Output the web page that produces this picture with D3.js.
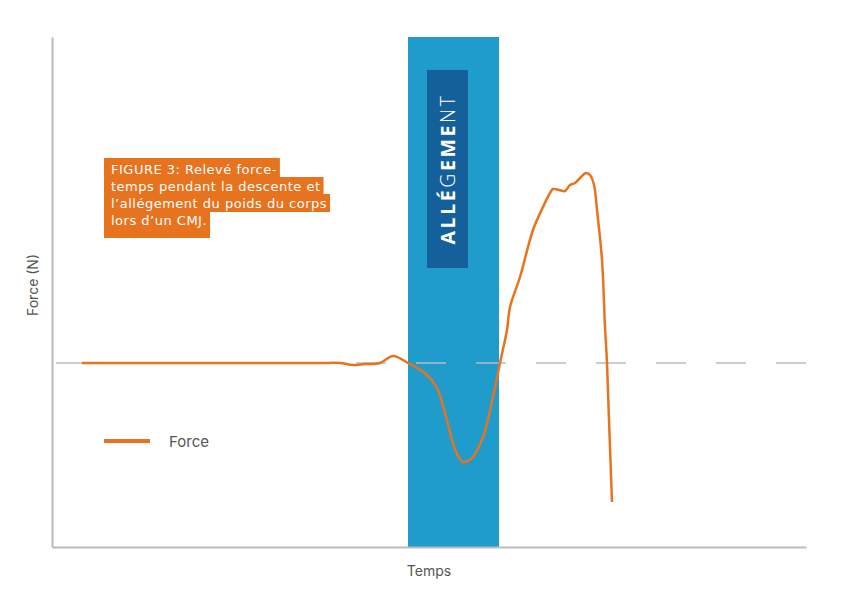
<!DOCTYPE html>
<html>
<head>
<meta charset="utf-8">
<script src="https://cdn.jsdelivr.net/npm/d3@7"></script>
<style>
    body { margin: 0; background: #fff; }
    svg { display: block; }
</style>
</head>
<body>
<script>
'use strict';

// temps (ms) et force (N)
const timeMs = [60, 136, 216, 296, 376, 456, 536, 576, 602, 626, 656, 682, 712, 750, 770, 786,
    802, 812, 822, 832, 842, 862, 882, 896, 910, 916, 936, 962, 982, 996, 1002, 1014, 1026,
    1036, 1046, 1056, 1068, 1076, 1084, 1090, 1100, 1106, 1110, 1114, 1120];
const forceN = [736, 736, 736, 736, 736, 736, 736, 736, 728, 732, 736, 764, 736, 688, 636, 536,
    416, 364, 340, 344, 360, 440, 600, 736, 868, 960, 1080, 1268, 1360, 1416, 1432, 1428, 1424,
    1448, 1456, 1476, 1496, 1488, 1448, 1348, 1148, 880, 736, 508, 180];

const bodyWeight = 736;
const unloadPhase = [712, 894];
const timeDomain = [0, 1508];
const forceDomain = [0, 2040];

const captionLines = [
    'FIGURE 3: Relevé force-',
    'temps pendant la descente et',
    'l\u2019allégement du poids du corps',
    'lors d\u2019un CMJ.'
];
const phaseLabel = [
    {text: 'ALLÉ', weight: 700},
    {text: 'G', weight: 300},
    {text: 'EME', weight: 700},
    {text: 'NT', weight: 300}
];
const seriesName = 'Force';

const W = 849, H = 589;
const margin = {top: 37, right: 43, bottom: 42, left: 52};
const orange = '#e8731f';

const svg = d3.select('body')
    .append('svg')
    .attr('width', W)
    .attr('height', H);

const x = d3.scaleLinear()
    .domain(timeDomain)
    .range([margin.left, W - margin.right]);
const y = d3.scaleLinear()
    .domain(forceDomain)
    .range([H - margin.bottom, margin.top]);

// bande bleue : phase d'allègement
svg.append('rect')
    .attr('x', x(unloadPhase[0]))
    .attr('y', y(forceDomain[1]))
    .attr('width', x(unloadPhase[1]) - x(unloadPhase[0]))
    .attr('height', y(forceDomain[0]) - y(forceDomain[1]))
    .attr('fill', '#1f9bcc');

const boxMid = (x(unloadPhase[0]) + x(unloadPhase[1])) / 2 - 6;
svg.append('rect')
    .attr('x', boxMid - 20.5)
    .attr('y', 70)
    .attr('width', 41)
    .attr('height', 198)
    .attr('fill', '#14609b');

svg.append('text')
    .attr('transform', `translate(${boxMid + 7},169) rotate(-90)`)
    .attr('text-anchor', 'middle')
    .attr('fill', '#fff')
    .style('font-family', '"Open Sans", sans-serif')
    .style('font-size', '19.5px')
    .style('letter-spacing', '2.6px')
    .selectAll('tspan')
    .data(phaseLabel)
    .join('tspan')
    .style('font-weight', d => d.weight)
    .text(d => d.text);

// poids du corps
svg.append('line')
    .attr('x1', x(timeDomain[0]))
    .attr('x2', x(timeDomain[1]))
    .attr('y1', y(bodyWeight))
    .attr('y2', y(bodyWeight))
    .attr('stroke', '#bdbdbd')
    .attr('stroke-width', 1.5)
    .attr('stroke-dasharray', '30,30')
    .attr('stroke-dashoffset', -4);

// axes sans graduations
const axes = svg.append('g')
    .attr('class', 'axes');
axes.append('g')
    .attr('transform', `translate(${margin.left},0)`)
    .call(d3.axisLeft(y).ticks(0).tickSizeOuter(0));
axes.append('g')
    .attr('transform', `translate(0,${H - margin.bottom})`)
    .call(d3.axisBottom(x).ticks(0).tickSizeOuter(0));
axes.selectAll('.domain')
    .attr('stroke', '#bbbbbb')
    .attr('stroke-width', 2);

// courbe force-temps
const line = d3.line()
    .x(d => x(d[0]))
    .y(d => y(d[1]))
    .curve(d3.curveCatmullRom.alpha(0.5));

svg.append('path')
    .datum(d3.zip(timeMs, forceN))
    .attr('d', line)
    .attr('fill', 'none')
    .attr('stroke', orange)
    .attr('stroke-width', 2.5)
    .attr('stroke-linejoin', 'round');

// titres d'axes
const labelStyle = sel => sel
    .attr('fill', '#555')
    .style('font-family', 'Inter, sans-serif')
    .style('font-size', '14px');

svg.append('text')
    .attr('transform', 'translate(38,285) rotate(-90)')
    .attr('text-anchor', 'middle')
    .text('Force (N)')
    .call(labelStyle);

svg.append('text')
    .attr('x', (margin.left + W - margin.right) / 2)
    .attr('y', 576)
    .attr('text-anchor', 'middle')
    .text('Temps')
    .call(labelStyle);

// légende
svg.append('line')
    .attr('x1', 104)
    .attr('x2', 150)
    .attr('y1', 441)
    .attr('y2', 441)
    .attr('stroke', orange)
    .attr('stroke-width', 4);
svg.append('text')
    .attr('x', 169)
    .attr('y', 447)
    .text(seriesName)
    .call(labelStyle)
    .style('font-size', '15px');

// encart légende de figure
const caption = svg.append('g')
    .attr('class', 'caption');
const lineH = 17;
const base0 = 174;

const captionText = caption.selectAll('text')
    .data(captionLines)
    .join('text')
    .attr('x', 111)
    .attr('y', (d, i) => base0 + i * lineH)
    .attr('fill', '#fff')
    .style('font-family', '"DejaVu Sans", sans-serif')
    .style('font-size', '13px')
    .style('letter-spacing', '0.5px')
    .text(d => d);

captionText.each(function (d, i) {
    const w = this.getComputedTextLength();
    const top = i === 0 ? 158 : base0 + i * lineH - 14;
    const bottom = i === captionLines.length - 1 ? 238 : base0 + i * lineH + 4;
    caption.insert('rect', 'text')
        .attr('x', 104)
        .attr('y', top)
        .attr('width', w + 10)
        .attr('height', bottom - top)
        .attr('fill', orange);
});
</script>
</body>
</html>
